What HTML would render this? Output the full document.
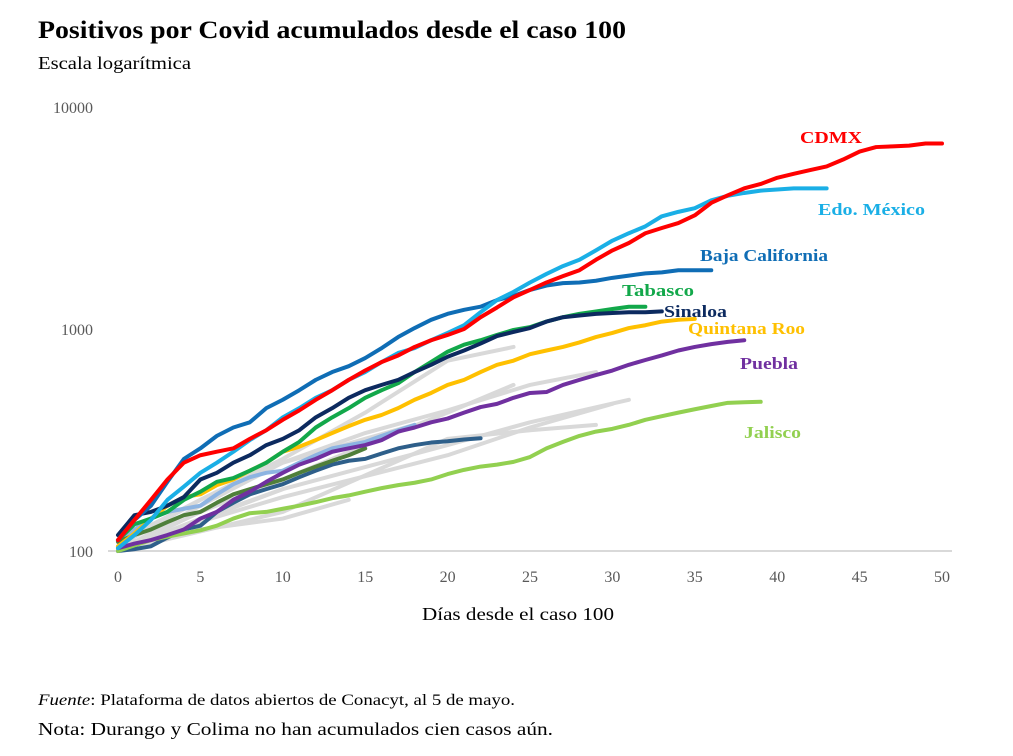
<!DOCTYPE html>
<html><head><meta charset="utf-8">
<style>
body{margin:0;background:#fff;width:1013px;height:751px;overflow:hidden;font-family:"Liberation Serif",serif}
text{font-family:"Liberation Serif",serif}
</style></head>
<body>
<svg id="chart" width="1013" height="751" xmlns="http://www.w3.org/2000/svg">
<text x="38" y="38" font-size="25" font-weight="bold" fill="#000" textLength="588" lengthAdjust="spacingAndGlyphs">Positivos por Covid acumulados desde el caso 100</text>
<text x="38" y="69" font-size="18" fill="#000" textLength="153" lengthAdjust="spacingAndGlyphs">Escala logarítmica</text>
<g id="axes"></g>
<g id="series"></g>
<g id="labels"></g>
<text x="518" y="620" font-size="18" text-anchor="middle" fill="#000" textLength="192" lengthAdjust="spacingAndGlyphs">Días desde el caso 100</text>
<text x="38" y="705" font-size="16" fill="#000" textLength="477" lengthAdjust="spacingAndGlyphs"><tspan font-style="italic">Fuente</tspan>: Plataforma de datos abiertos de Conacyt, al 5 de mayo.</text>
<text x="38" y="735" font-size="18" fill="#000" textLength="515" lengthAdjust="spacingAndGlyphs">Nota: Durango y Colima no han acumulados cien casos aún.</text>
</svg>
<script>
const xTicks=[0,5,10,15,20,25,30,35,40,45,50];
const yTicks=[100,1000,10000];
const grayDays1=[0,5,10,15,20,24];const grayVals1=[105,170,260,420,720,830];
const grayDays2=[0,5,10,15,20,24];const grayVals2=[100,150,210,300,420,560];
const grayDays3=[0,5,10,15,20,25,29];const grayVals3=[110,170,250,340,430,560,640];
const grayDays4=[0,10,20,25,31];const grayVals4=[100,190,300,380,480];
const grayDays5=[0,10,20,25,30];const grayVals5=[105,175,270,360,460];
const grayDays6=[0,10,20,25,29];const grayVals6=[100,150,320,350,370];
const grayDays7=[0,5,10];const grayVals7=[100,140,190];
const grayDays8=[0,5,10,14];const grayVals8=[100,125,140,170];
const grayDays9=[0,5,10,15,18];const grayVals9=[100,160,250,320,370];
const steelVals=[100,102,105,115,125,130,150,165,180,190,200,215,230,245,255,260,275,290,300,308,312,318,322];
const lightBlueVals=[110,125,140,150,155,160,180,200,215,225,230,250,270,290,300,310,330,350,370];
const darkGreenVals=[110,118,125,135,145,150,165,180,190,200,210,225,240,255,270,290];
const cdmxVals=[112,138,170,210,250,270,280,290,320,350,390,430,480,530,590,650,710,760,830,890,940,1000,1130,1250,1390,1500,1620,1730,1840,2050,2260,2440,2700,2850,3000,3250,3700,4000,4300,4500,4800,5000,5200,5400,5800,6300,6600,6650,6700,6850,6850];
const edomexVals=[103,118,138,170,195,225,250,280,316,350,400,440,490,530,590,640,710,780,820,890,960,1040,1190,1350,1470,1620,1770,1920,2050,2260,2500,2700,2900,3220,3370,3500,3800,3980,4100,4200,4250,4300,4300,4300];
const bajaVals=[112,138,160,205,260,290,330,360,380,440,480,530,590,640,680,740,820,920,1010,1100,1170,1220,1260,1350,1410,1500,1570,1610,1620,1650,1700,1740,1780,1800,1840,1840,1840];
const tabascoVals=[112,132,140,150,170,185,205,213,230,250,280,310,360,400,440,490,530,570,640,710,790,850,890,940,990,1020,1080,1130,1170,1200,1230,1260,1260];
const sinaloaVals=[118,145,150,160,175,210,225,250,270,300,320,350,400,440,490,530,560,590,640,690,750,800,860,930,970,1010,1080,1130,1150,1170,1180,1190,1190,1200];
const qrooVals=[105,120,140,160,175,180,198,210,230,250,280,295,316,340,365,390,410,440,480,515,560,590,640,690,720,770,800,830,870,920,960,1010,1040,1080,1100,1110];
const pueblaVals=[103,108,112,118,125,140,150,170,185,205,225,245,260,280,290,300,316,345,360,380,395,420,445,460,490,515,520,560,590,620,650,690,725,760,800,830,855,875,890];
const jaliscoVals=[100,106,112,116,120,124,130,140,148,150,155,160,166,173,178,185,192,198,203,210,222,232,240,245,252,265,290,310,330,345,355,370,390,405,420,435,450,465,468,470];
const labelNames=["CDMX","Edo. México","Baja California","Tabasco","Sinaloa","Quintana Roo","Puebla","Jalisco"];

const X0=118,XS=16.48,Y100=551,DEC=222;
function xs(d){return X0+d*XS;}
function ys(v){return Y100-(Math.log10(v)-2)*DEC;}
const NS="http://www.w3.org/2000/svg";
function mk(tag,parent){const e=document.createElementNS(NS,tag);parent.appendChild(e);return e;}
const axes=document.getElementById('axes'),series=document.getElementById('series'),labels=document.getElementById('labels');

const base=mk('line',axes);


base.setAttribute('x1',108);base.setAttribute('x2',952);base.setAttribute('y1',ys(100));base.setAttribute('y2',ys(100));
base.setAttribute('stroke','#D9D9D9');base.setAttribute('stroke-width',2);
xTicks.forEach(t=>{const e=mk('text',axes);


e.setAttribute('x',xs(t));e.setAttribute('y',582);e.setAttribute('text-anchor','middle');e.setAttribute('font-size','16');e.setAttribute('fill','#595959');e.textContent=t;});
yTicks.forEach(t=>{const e=mk('text',axes);


e.setAttribute('x',93);e.setAttribute('y',ys(t)+6);e.setAttribute('text-anchor','end');e.setAttribute('font-size','16');e.setAttribute('fill','#595959');e.textContent=t;});

function drawPts(days,vals,color,name,w){
  const p=mk('polyline',series);
  
  
  p.setAttribute('points',vals.map((v,i)=>xs(days[i])+','+ys(v)).join(' '));
  p.setAttribute('fill','none');p.setAttribute('stroke',color);p.setAttribute('stroke-width',w||4);
  p.setAttribute('stroke-linejoin','round');p.setAttribute('stroke-linecap','round');
}
function draw(vals,color,name){drawPts(vals.map((v,i)=>i),vals,color,name);}
const G='#D9D9D9';
[[grayDays1,grayVals1],[grayDays2,grayVals2],[grayDays3,grayVals3],[grayDays4,grayVals4],[grayDays5,grayVals5],[grayDays6,grayVals6],[grayDays7,grayVals7],[grayDays8,grayVals8],[grayDays9,grayVals9]].forEach(a=>drawPts(a[0],a[1],G,'other-state-line'));
draw(steelVals,'#2E5F8A','steel-blue-state-line');
draw(lightBlueVals,'#8DB4E2','light-blue-state-line');
draw(darkGreenVals,'#4F7F3A','dark-green-state-line');
draw(jaliscoVals,'#92D050','jalisco-line');
draw(pueblaVals,'#7030A0','puebla-line');
draw(qrooVals,'#FFC000','quintana-roo-line');
draw(tabascoVals,'#12A84A','tabasco-line');
draw(sinaloaVals,'#0C2A5F','sinaloa-line');
draw(bajaVals,'#0F6DB5','baja-california-line');
draw(edomexVals,'#1AAFE6','edo-mexico-line');
draw(cdmxVals,'#FF0000','cdmx-line');

const labelPos=[[800,143,'#FF0000',62],[818,215,'#1AAFE6',107],[700,261,'#0F6DB5',128],[622,296,'#12A84A',72],[664,317,'#0C2A5F',63],[688,334,'#FFC000',117],[740,369,'#7030A0',58],[744,438,'#92D050',57]];
labelNames.forEach((n,i)=>{const e=mk('text',labels);


e.setAttribute('x',labelPos[i][0]);e.setAttribute('y',labelPos[i][1]);e.setAttribute('font-size','17');e.setAttribute('font-weight','bold');e.setAttribute('fill',labelPos[i][2]);
e.setAttribute('textLength',labelPos[i][3]);e.setAttribute('lengthAdjust','spacingAndGlyphs');e.textContent=n;});
</script>
</body></html>
